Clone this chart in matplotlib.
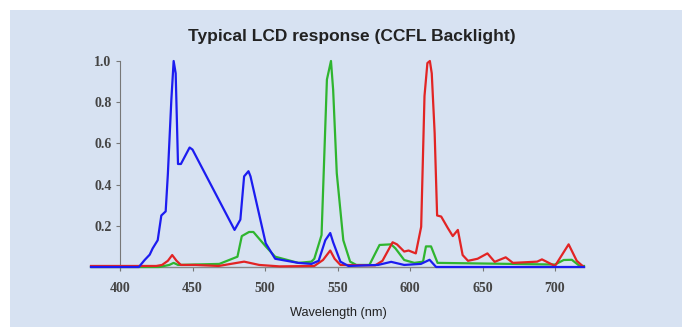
"""
Typical LCD response (CCFL Backlight)
"""

import matplotlib
matplotlib.use("Agg")
import matplotlib.pyplot as plt
from matplotlib.patches import Rectangle

# ---------------------------------------------------
# Data
# ---------------------------------------------------

blue_nm = [380, 413, 417, 420.5, 422.5, 426, 428.5, 431.5, 433, 435.4, 437,
           438.4, 440, 442, 448, 450, 479, 483, 485.6, 488.6, 490, 500.5,
           507, 523, 532, 537, 541.6, 545, 547, 552, 557.5, 578, 587, 596,
           607.5, 613.5, 618, 720]
blue_val = [0.0, 0.0, 0.034, 0.06, 0.09, 0.13, 0.25, 0.27, 0.45, 0.81, 1.0,
            0.94, 0.50, 0.50, 0.58, 0.57, 0.18, 0.23, 0.44, 0.465, 0.44, 0.115,
            0.04, 0.02, 0.015, 0.03, 0.13, 0.165, 0.12, 0.026, 0.005, 0.01,
            0.025, 0.01, 0.015, 0.035, 0.0, 0.0]

green_nm = [380, 427, 434, 437, 440, 468.5, 481, 484, 489, 492, 500.5, 507,
            523, 532, 534, 539, 542.7, 545.5, 547, 549.5, 554, 558.7, 563,
            572, 579, 587, 590, 596, 603, 609, 611, 614.5, 619, 700, 706,
            711.6, 717, 720]
green_val = [0.0, 0.0, 0.01, 0.02, 0.01, 0.015, 0.05, 0.15, 0.17, 0.17, 0.1,
             0.05, 0.02, 0.026, 0.04, 0.155, 0.91, 1.0, 0.86, 0.455, 0.13,
             0.026, 0.01, 0.01, 0.107, 0.11, 0.09, 0.034, 0.02, 0.026, 0.1,
             0.1, 0.02, 0.012, 0.034, 0.035, 0.005, 0.005]

red_nm = [380, 425, 429, 433, 436, 439, 442, 452, 468, 485.6, 496, 510, 534,
          540, 545, 548, 552, 576, 581, 588, 591, 596, 599, 604, 607.7, 610,
          612, 613.7, 615, 617, 618.7, 621.5, 626, 629.5, 633, 636.3, 640,
          646.6, 653.4, 658.4, 666, 671, 687.7, 691, 700, 709.4, 715, 719]
red_val = [0.005, 0.005, 0.01, 0.03, 0.058, 0.03, 0.01, 0.01, 0.005, 0.026,
           0.01, 0.003, 0.005, 0.034, 0.08, 0.04, 0.01, 0.008, 0.03, 0.12,
           0.11, 0.075, 0.08, 0.066, 0.195, 0.83, 0.99, 1.0, 0.94, 0.65,
           0.25, 0.245, 0.19, 0.15, 0.18, 0.058, 0.03, 0.04, 0.066, 0.025,
           0.047, 0.02, 0.026, 0.037, 0.005, 0.11, 0.03, 0.005]

x_ticks = [400, 450, 500, 550, 600, 650, 700]
y_ticks = [0.2, 0.4, 0.6, 0.8, 1.0]

TITLE = "Typical LCD response (CCFL Backlight)"
X_LABEL = "Wavelength (nm)"

# ---------------------------------------------------
# Figure
# ---------------------------------------------------

PANEL = "#d7e2f2"

fig = plt.figure(figsize=(6.82, 3.27), dpi=100, facecolor="white")

fig.patches.append(
    Rectangle(
        (10 / 682, -0.1), 1, 1.1 - 10 / 327,
        transform=fig.transFigure,
        facecolor=PANEL,
        edgecolor="none",
        zorder=-5,
    )
)

ax = fig.add_axes([91 / 682, 60 / 327, 493 / 682, 206 / 327])
ax.patch.set_visible(False)

ax.plot(blue_nm, blue_val, color="#1c1cf0", linewidth=1.6,
        clip_on=False, zorder=4)
ax.plot(green_nm, green_val, color="#2fb52f", linewidth=1.6,
        clip_on=False, zorder=3)
ax.plot(red_nm, red_val, color="#e22424", linewidth=1.6,
        clip_on=False, zorder=3.5)

ax.set_xlim(380, 720)
ax.set_ylim(0, 1.0)

# ---------------------------------------------------
# Axes styling
# ---------------------------------------------------

for side in ["top", "right"]:
    ax.spines[side].set_visible(False)

ax.spines["left"].set_position(("data", 400))
ax.spines["left"].set_bounds(-0.015, 1.0)
ax.spines["left"].set_color("#777777")
ax.spines["bottom"].set_color("#888888")
ax.spines["bottom"].set_linewidth(1.0)

ax.set_xticks(x_ticks)
ax.set_yticks(y_ticks)
ax.set_yticklabels([f"{v:.1f}" for v in y_ticks])

ax.tick_params(axis="both", colors="#777777", length=3, width=0.8,
               labelcolor="#444444", labelsize=10, pad=8)
ax.tick_params(axis="y", pad=3)

for label in ax.get_xticklabels() + ax.get_yticklabels():
    label.set_fontfamily("Liberation Serif")
    label.set_fontweight("bold")

fig.text(352 / 682, 1 - 37 / 327, TITLE, ha="center", va="center",
         fontsize=12.5, fontweight="bold", family="Liberation Sans",
         color="#222222")

fig.text(338 / 682, 1 - 313 / 327, X_LABEL, ha="center", va="center",
         fontsize=9.2, family="Liberation Sans", color="#222222")

plt.savefig("out.png", dpi=100, facecolor=fig.get_facecolor())
plt.close()
